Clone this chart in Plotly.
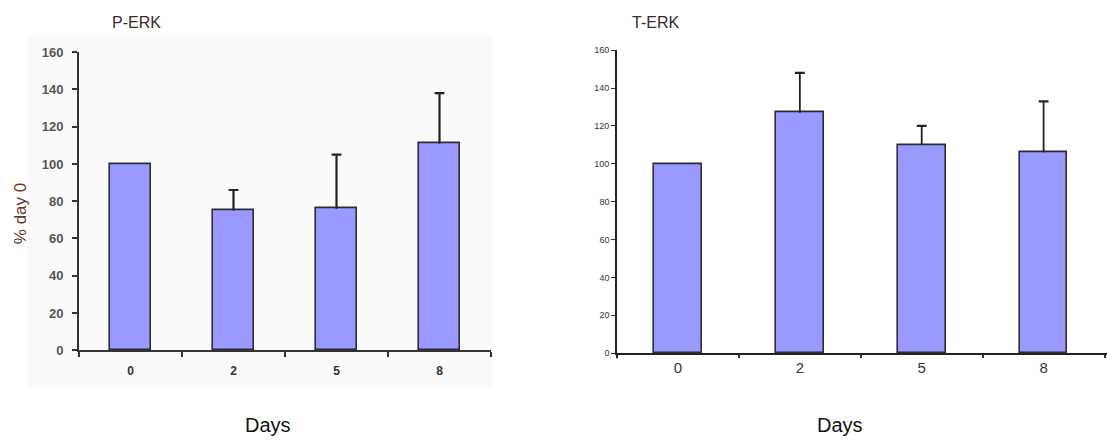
import plotly.graph_objects as go

W, H = 1107, 441

days = ["0", "2", "5", "8"]
perk_mean = [100, 75, 76, 111]
perk_err = [0, 11, 29, 27]
terk_mean = [100, 127, 110, 106]
terk_err = [0, 21, 10, 27]
y_ticks = [0, 20, 40, 60, 80, 100, 120, 140, 160]

BAR_FILL = "#9999ff"
BAR_LINE = "#2b2b3a"

# vertical placement calibration for the rendered page
Y_OFF, Y_SCALE = 6.8, 0.966


def px_x(p):
    return p / W


def px_y(p):
    return 1 - ((p - Y_OFF) / Y_SCALE) / H


def whiskers(cats, means, errs):
    """Upper-only error whiskers: stems from the bar top plus a cap."""
    xs, ys, cx, cy = [], [], [], []
    for c, m, e in zip(cats, means, errs):
        if e <= 0:
            continue
        xs += [c, c, None]
        ys += [m, m + e, None]
        cx.append(c)
        cy.append(m + e)
    return xs, ys, cx, cy


fig = go.Figure()

fig.add_trace(go.Bar(
    x=days, y=perk_mean, xaxis="x", yaxis="y", width=0.4,
    marker=dict(color=BAR_FILL, line=dict(color=BAR_LINE, width=1.6)),
    showlegend=False,
))
fig.add_trace(go.Bar(
    x=days, y=terk_mean, xaxis="x2", yaxis="y2", width=0.39,
    marker=dict(color=BAR_FILL, line=dict(color=BAR_LINE, width=1.6)),
    showlegend=False,
))

for cats, means, errs, xa, ya, lw in [
    (days, perk_mean, perk_err, "x", "y", 2.2),
    (days, terk_mean, terk_err, "x2", "y2", 1.8),
]:
    xs, ys, cx, cy = whiskers(cats, means, errs)
    fig.add_trace(go.Scatter(
        x=xs, y=ys, xaxis=xa, yaxis=ya, mode="lines",
        line=dict(color="#222222", width=lw), showlegend=False, hoverinfo="skip",
    ))
    fig.add_trace(go.Scatter(
        x=cx, y=cy, xaxis=xa, yaxis=ya, mode="markers",
        marker=dict(symbol="line-ew", size=7, line=dict(color="#222222", width=2.2)),
        showlegend=False, hoverinfo="skip",
    ))

axis_common = dict(showgrid=False, zeroline=False, showline=True, fixedrange=True)

fig.update_layout(
    width=W, height=H,
    margin=dict(l=0, r=0, t=0, b=0),
    paper_bgcolor="white", plot_bgcolor="rgba(0,0,0,0)",
    bargap=0,
    xaxis=dict(
        **axis_common, type="category", categoryorder="array", categoryarray=days,
        domain=[px_x(79), px_x(491)], range=[-0.5, 3.5], anchor="y",
        linecolor="#333333", linewidth=2, ticks="outside", tickson="boundaries",
        ticklen=5, tickwidth=2, tickcolor="#333333", ticklabelstandoff=8,
        tickfont=dict(family="Arial, Liberation Sans", size=12, color="#333333",
                      weight="bold"),
    ),
    yaxis=dict(
        **axis_common, domain=[px_y(350), px_y(52)], range=[0, 160], anchor="x",
        tickvals=y_ticks, linecolor="#333333", linewidth=2, ticks="outside",
        ticklen=5, tickwidth=2, tickcolor="#333333", ticklabelstandoff=6,
        tickfont=dict(family="Arial, Liberation Sans", size=13, color="#555555",
                      weight="bold"),
    ),
    xaxis2=dict(
        **axis_common, type="category", categoryorder="array", categoryarray=days,
        domain=[px_x(617), px_x(1107)], range=[-0.5, 3.52], anchor="y2",
        linecolor="#222222", linewidth=1.6, ticks="outside", tickson="boundaries",
        ticklen=3, tickwidth=1.5, tickcolor="#333333",
        tickfont=dict(family="Arial, Liberation Sans", size=15, color="#333333"),
    ),
    yaxis2=dict(
        **axis_common, domain=[px_y(353), px_y(50)], range=[0, 160], anchor="x2",
        tickvals=y_ticks, linecolor="#222222", linewidth=1.6, ticks="outside",
        ticklen=4, tickwidth=1.2, tickcolor="#333333",
        tickfont=dict(family="Liberation Sans Narrow, Arial Narrow, Arial", size=9,
                      color="#333333"),
    ),
)

# faint panel background behind the left chart
fig.add_shape(type="rect", xref="paper", yref="paper",
              x0=px_x(28), x1=px_x(493), y0=px_y(387), y1=px_y(36),
              fillcolor="#fafafa", line=dict(width=0), layer="below")

# short downward extensions of the y axes below the baseline
fig.add_shape(type="line", xref="paper", yref="paper",
              x0=px_x(79), x1=px_x(79), y0=px_y(350), y1=px_y(356),
              line=dict(color="#333333", width=2))
fig.add_shape(type="line", xref="paper", yref="paper",
              x0=px_x(617), x1=px_x(617), y0=px_y(353), y1=px_y(358),
              line=dict(color="#222222", width=1.6))

texts = [
    dict(text="P-ERK", x=px_x(110), y=px_y(22), xanchor="left", size=16, color="#3a2a2a"),
    dict(text="T-ERK", x=px_x(630), y=px_y(22), xanchor="left", size=16, color="#3a2a2a"),
    dict(text="Days", x=px_x(268), y=px_y(425), xanchor="center", size=20, color="#111111"),
    dict(text="Days", x=px_x(840), y=px_y(425), xanchor="center", size=20, color="#111111"),
]
for t in texts:
    fig.add_annotation(text=t["text"], xref="paper", yref="paper", x=t["x"], y=t["y"],
                       xanchor=t["xanchor"], yanchor="middle", showarrow=False,
                       font=dict(family="Arial, Liberation Sans", size=t["size"],
                                 color=t["color"]))

fig.add_annotation(text="% day 0", xref="paper", yref="paper", x=px_x(20), y=px_y(214),
                   xanchor="center", yanchor="middle", showarrow=False, textangle=-90,
                   font=dict(family="Arial, Liberation Sans", size=17, color="#6b3326"))

fig.write_html("out.html")
